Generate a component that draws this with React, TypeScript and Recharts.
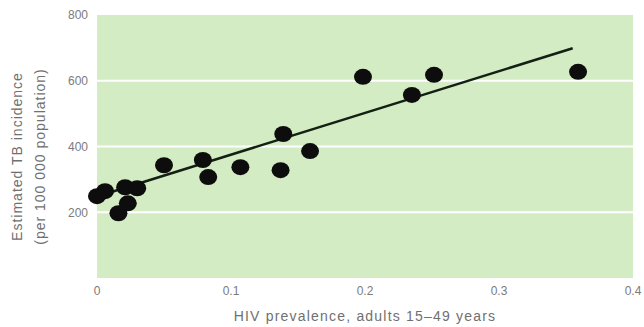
import { CartesianGrid, ReferenceLine, Scatter, ScatterChart, XAxis, YAxis } from "recharts";

// HIV prevalence (x) vs estimated TB incidence per 100 000 (y), one entry per country
const hivPrevalence = [0.0, 0.006, 0.016, 0.021, 0.023, 0.03, 0.05, 0.079, 0.083, 0.107, 0.137, 0.139, 0.159, 0.1985, 0.235, 0.2515, 0.359];
const tbIncidence = [249, 264, 197, 276, 227, 273, 343, 359, 307, 337, 328, 438, 386, 612, 557, 618, 627];

// fitted regression line end points
const fitX = [0.0, 0.355];
const fitY = [248, 699];

const xTicks = [0, 0.1, 0.2, 0.3, 0.4];
const yTicks = [200, 400, 600, 800];
const gridValues = [200, 400, 600];

const points = hivPrevalence.map((x, i) => ({ x, y: tbIncidence[i] }));
const fitLine = fitX.map((x, i) => ({ x, y: fitY[i] }));

const FONT = '"Liberation Sans", Arial, sans-serif';
const TICK = { fontSize: 12, fill: "#7b7b7b", fontFamily: FONT };

function Dot(props: { cx?: number; cy?: number }) {
  const { cx, cy } = props;
  if (cx == null || cy == null) return null;
  return <ellipse cx={cx} cy={cy} rx={9} ry={8} fill="#0d0d0d" />;
}

function YTitle(props: { viewBox?: { x: number; y: number; width: number; height: number } }) {
  const vb = props.viewBox;
  if (!vb) return null;
  const cy = vb.y + vb.height / 2 + 10;
  return (
    <g fill="#707070" fontSize={14} fontFamily={FONT} letterSpacing={1}>
      <text x={17} y={cy} textAnchor="middle" dominantBaseline="central" transform={`rotate(-90, 17, ${cy})`}>
        Estimated TB incidence
      </text>
      <text x={40} y={cy} textAnchor="middle" dominantBaseline="central" transform={`rotate(-90, 40, ${cy})`}>
        (per 100 000 population)
      </text>
    </g>
  );
}

export default function App() {
  return (
    <div style={{ position: "absolute", left: 0, top: 0, width: 644, height: 327, background: "#fff" }}>
      <ScatterChart width={644} height={327} margin={{ top: 15, right: 11, bottom: 0, left: 0 }}>
        <CartesianGrid fill="#d3ecc4" horizontal={false} vertical={false} />
        {gridValues.map((v) => (
          <ReferenceLine key={v} y={v} stroke="#ffffff" strokeWidth={2} />
        ))}
        <XAxis
          type="number"
          dataKey="x"
          domain={[0, 0.4]}
          ticks={xTicks}
          tickFormatter={(v: number) => (v === 0 ? "0" : v.toFixed(1))}
          axisLine={false}
          tickLine={false}
          tickSize={6}
          tickMargin={2}
          height={49}
          tick={TICK}
          label={{
            value: "HIV prevalence, adults 15\u201349 years",
            position: "insideBottom",
            offset: 6,
            style: { fontSize: 14, fill: "#707070", fontFamily: FONT, letterSpacing: 1.2 },
          }}
        />
        <YAxis
          type="number"
          dataKey="y"
          domain={[0, 800]}
          ticks={yTicks}
          axisLine={false}
          tickLine={false}
          tickSize={6}
          tickMargin={3}
          width={97}
          tick={TICK}
          label={<YTitle />}
        />
        <Scatter
          data={fitLine}
          line={{ stroke: "#142014", strokeWidth: 2.5 }}
          shape={() => null}
          isAnimationActive={false}
        />
        <Scatter data={points} shape={<Dot />} isAnimationActive={false} />
      </ScatterChart>
    </div>
  );
}
